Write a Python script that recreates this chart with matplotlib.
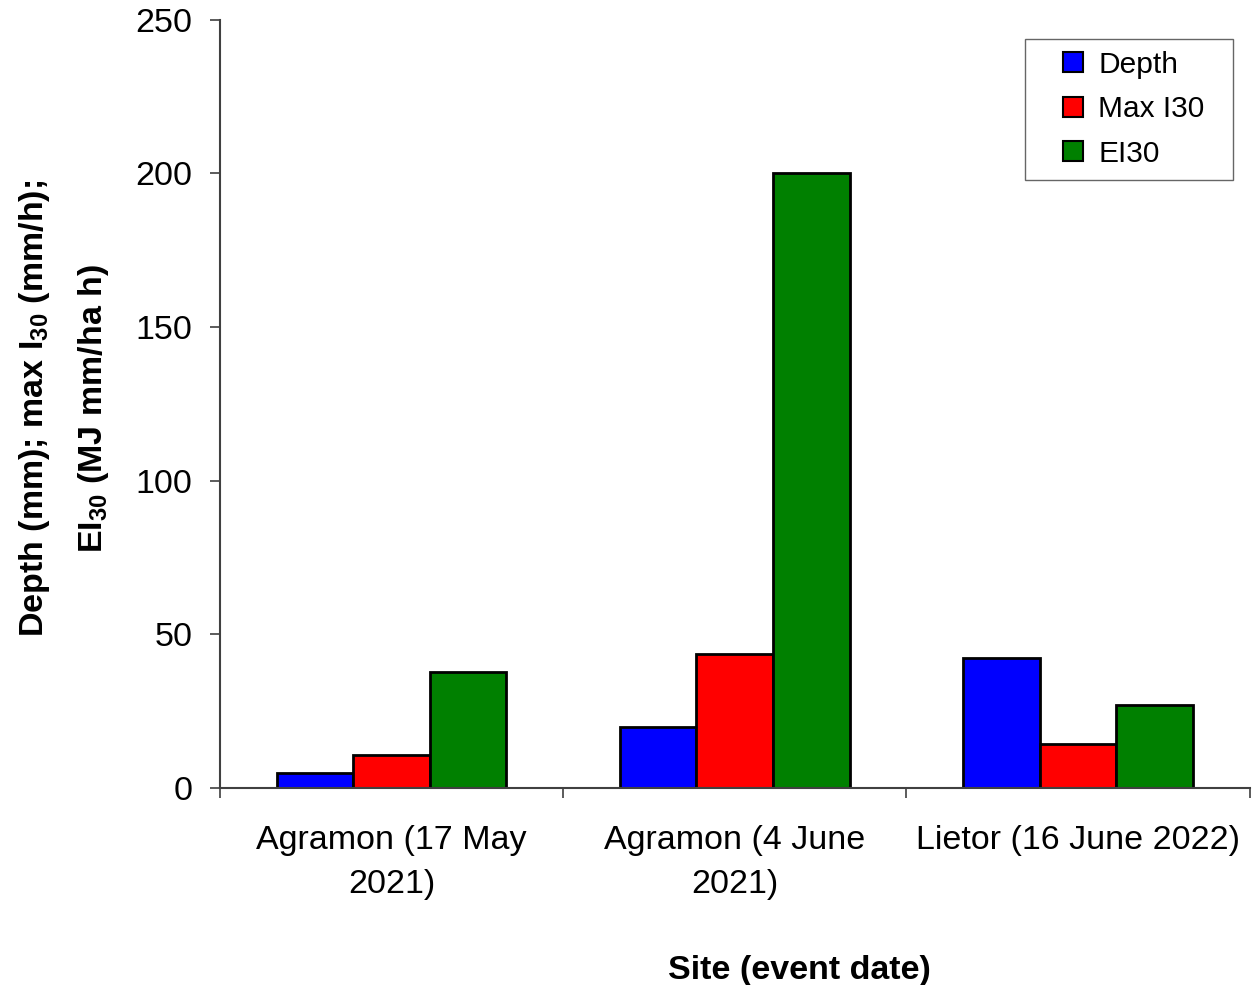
import numpy as np
import matplotlib
matplotlib.use("Agg")
import matplotlib.pyplot as plt
from matplotlib.patches import Rectangle
from matplotlib.legend_handler import HandlerPatch

plt.rcParams["font.family"] = ["Liberation Sans", "DejaVu Sans"]
plt.rcParams["mathtext.fontset"] = "custom"
plt.rcParams["mathtext.rm"] = "Liberation Sans"
plt.rcParams["mathtext.bf"] = "Liberation Sans:bold"

# Rainfall events and their measured values
sites = ["Agramon (17 May\n2021)", "Agramon (4 June\n2021)", "Lietor (16 June 2022)"]
depth = [5.0, 19.8, 42.2]
max_i30 = [10.6, 43.5, 14.2]
ei30 = [37.6, 200.2, 27.1]

series = [("Depth", depth, "#0000ff"),
          ("Max I30", max_i30, "#ff0000"),
          ("EI30", ei30, "#008000")]


def _square_handle(legend, orig_handle, xdescent, ydescent, width, height, fontsize):
    # small square pushed to the right end of the handle box
    side = height
    return Rectangle((-xdescent + width - side, -ydescent), side, side)


fig = plt.figure(figsize=(12.56, 9.85), dpi=100)
ax = fig.add_axes([0.175, 0.2, 0.82, 0.78])

x = np.arange(len(sites))
width = 0.223
handles = []
for i, (name, vals, color) in enumerate(series):
    ax.bar(x + (i - 1) * width, vals, width, color=color,
           edgecolor="black", linewidth=2)
    handles.append(Rectangle((0, 0), 1, 1, facecolor=color,
                             edgecolor="black", linewidth=1.5))

ax.set_xlim(-0.5, len(sites) - 0.5)
ax.set_ylim(0, 250)
ax.set_yticks(range(0, 251, 50))

ax.set_xticks(x)
ax.set_xticklabels(sites, fontsize=24.5, linespacing=1.54)
ax.set_xticks(np.arange(-0.5, len(sites)), minor=True)
ax.tick_params(axis="x", which="major", length=0, pad=27)
ax.tick_params(axis="x", which="minor", length=7.5, width=1.2, color="#404040")
ax.tick_params(axis="y", labelsize=24.5, length=7.5, width=1.2, color="#404040", pad=12)

for side in ("top", "right"):
    ax.spines[side].set_visible(False)
for side in ("left", "bottom"):
    ax.spines[side].set_color("#404040")
    ax.spines[side].set_linewidth(1.5)

ax.set_xlabel("Site (event date)", fontsize=24.5, fontweight="bold", labelpad=39)
ax.xaxis.label.set_x(0.563)
ax.set_ylabel("Depth (mm); max I$_{\\mathbf{30}}$ (mm/h);\nEI$_{\\mathbf{30}}$ (MJ mm/ha h)",
              fontsize=24.5, fontweight="bold", labelpad=18, linespacing=1.9)
ax.yaxis.label.set_y(0.494)

labels = ["Depth", "Max I30  ", "EI30"]
leg = ax.legend(handles, labels, loc="upper right", bbox_to_anchor=(0.9835, 0.975),
                borderaxespad=0, fontsize=21.5, frameon=True, fancybox=False,
                edgecolor="#404040", handlelength=1.54, handleheight=0.65,
                handletextpad=0.5, borderpad=0.4, labelspacing=0.55,
                handler_map={Rectangle: HandlerPatch(patch_func=_square_handle)})
leg.get_frame().set_linewidth(1.0)

fig.savefig("out.png", dpi=100)
